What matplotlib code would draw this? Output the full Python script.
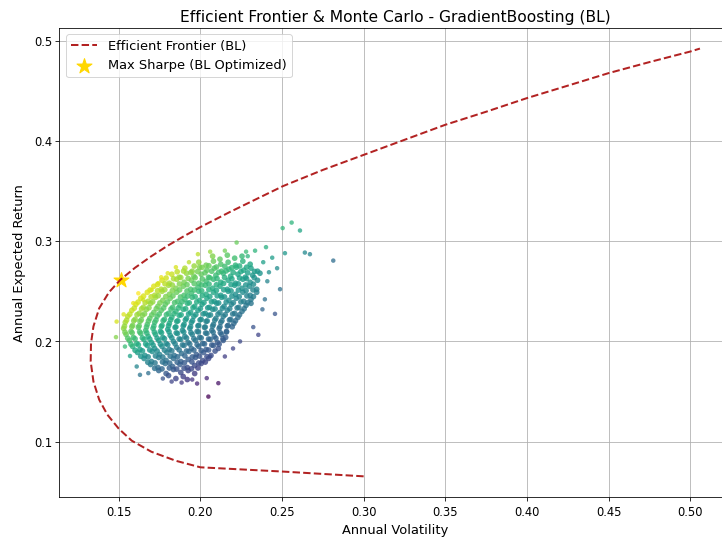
import matplotlib
matplotlib.use("Agg")
import matplotlib.pyplot as plt
import numpy as np

# Efficient frontier (volatility, expected return), from the low-return end upward
frontier_vol = [0.300, 0.250, 0.200, 0.185, 0.170, 0.158, 0.150, 0.143, 0.138, 0.1345,
                0.1328, 0.1330, 0.1345, 0.1380, 0.1440, 0.1510, 0.160, 0.170, 0.180, 0.190,
                0.200, 0.218, 0.235, 0.2508, 0.275, 0.300, 0.325, 0.350, 0.375, 0.400,
                0.425, 0.450, 0.475, 0.500, 0.506]
frontier_ret = [0.0655, 0.0703, 0.0745, 0.081, 0.090, 0.101, 0.113, 0.127, 0.142, 0.160,
                0.180, 0.198, 0.215, 0.233, 0.249, 0.2615, 0.2735, 0.2850, 0.2955, 0.3050,
                0.3140, 0.3290, 0.3425, 0.355, 0.371, 0.386, 0.401, 0.416, 0.429, 0.4426,
                0.455, 0.4675, 0.4785, 0.489, 0.492]

# Max Sharpe portfolio (BL optimized)
best_vol = 0.1512
best_ret = 0.2613

# Monte Carlo portfolios (volatility, return): main body of the cloud
mc_cloud = [
    (0.2075, 0.285), (0.2120, 0.282), (0.2165, 0.286), (0.2210, 0.283), (0.2255, 0.285),
    (0.1990, 0.279), (0.2035, 0.276), (0.2080, 0.280), (0.2125, 0.277), (0.2170, 0.279),
    (0.2215, 0.276), (0.2260, 0.280), (0.2305, 0.277),
    (0.1905, 0.273), (0.1950, 0.270), (0.1995, 0.274), (0.2040, 0.271), (0.2085, 0.273),
    (0.2130, 0.270), (0.2175, 0.272), (0.2220, 0.274), (0.2265, 0.271), (0.2310, 0.273),
    (0.2350, 0.270),
    (0.1825, 0.267), (0.1870, 0.264), (0.1915, 0.268), (0.1960, 0.265), (0.2005, 0.267),
    (0.2050, 0.264), (0.2095, 0.266), (0.2140, 0.268), (0.2185, 0.265), (0.2230, 0.267),
    (0.2275, 0.264), (0.2320, 0.266), (0.2365, 0.268),
    (0.1765, 0.261), (0.1810, 0.258), (0.1855, 0.262), (0.1900, 0.259), (0.1945, 0.261),
    (0.1990, 0.258), (0.2035, 0.260), (0.2080, 0.262), (0.2125, 0.259), (0.2170, 0.261),
    (0.2215, 0.258), (0.2260, 0.262), (0.2305, 0.259), (0.2350, 0.261),
    (0.1715, 0.255), (0.1760, 0.252), (0.1805, 0.256), (0.1850, 0.253), (0.1895, 0.255),
    (0.1940, 0.252), (0.1985, 0.254), (0.2030, 0.256), (0.2075, 0.253), (0.2120, 0.255),
    (0.2165, 0.252), (0.2210, 0.256), (0.2255, 0.253), (0.2300, 0.255), (0.2345, 0.252),
    (0.1675, 0.249), (0.1720, 0.246), (0.1765, 0.250), (0.1810, 0.247), (0.1855, 0.249),
    (0.1900, 0.246), (0.1945, 0.248), (0.1990, 0.250), (0.2035, 0.247), (0.2080, 0.249),
    (0.2125, 0.246), (0.2170, 0.250), (0.2215, 0.247), (0.2260, 0.249), (0.2305, 0.246),
    (0.2345, 0.249),
    (0.1635, 0.243), (0.1680, 0.240), (0.1725, 0.244), (0.1770, 0.241), (0.1815, 0.243),
    (0.1860, 0.240), (0.1905, 0.242), (0.1950, 0.244), (0.1995, 0.241), (0.2040, 0.243),
    (0.2085, 0.240), (0.2130, 0.244), (0.2175, 0.241), (0.2220, 0.243), (0.2265, 0.240),
    (0.2310, 0.242),
    (0.1605, 0.237), (0.1650, 0.234), (0.1695, 0.238), (0.1740, 0.235), (0.1785, 0.237),
    (0.1830, 0.234), (0.1875, 0.236), (0.1920, 0.238), (0.1965, 0.235), (0.2010, 0.237),
    (0.2055, 0.234), (0.2100, 0.238), (0.2145, 0.235), (0.2190, 0.237), (0.2235, 0.234),
    (0.2280, 0.236), (0.2310, 0.238),
    (0.1580, 0.231), (0.1625, 0.228), (0.1670, 0.232), (0.1715, 0.229), (0.1760, 0.231),
    (0.1805, 0.228), (0.1850, 0.230), (0.1895, 0.232), (0.1940, 0.229), (0.1985, 0.231),
    (0.2030, 0.228), (0.2075, 0.232), (0.2120, 0.229), (0.2165, 0.231), (0.2210, 0.228),
    (0.2255, 0.230),
    (0.1555, 0.225), (0.1600, 0.222), (0.1645, 0.226), (0.1690, 0.223), (0.1735, 0.225),
    (0.1780, 0.222), (0.1825, 0.224), (0.1870, 0.226), (0.1915, 0.223), (0.1960, 0.225),
    (0.2005, 0.222), (0.2050, 0.226), (0.2095, 0.223), (0.2140, 0.225), (0.2185, 0.222),
    (0.2230, 0.224),
    (0.1540, 0.219), (0.1585, 0.216), (0.1630, 0.220), (0.1675, 0.217), (0.1720, 0.219),
    (0.1765, 0.216), (0.1810, 0.218), (0.1855, 0.220), (0.1900, 0.217), (0.1945, 0.219),
    (0.1990, 0.216), (0.2035, 0.220), (0.2080, 0.217), (0.2125, 0.219), (0.2170, 0.216),
    (0.2205, 0.218),
    (0.1530, 0.213), (0.1575, 0.210), (0.1620, 0.214), (0.1665, 0.211), (0.1710, 0.213),
    (0.1755, 0.210), (0.1800, 0.212), (0.1845, 0.214), (0.1890, 0.211), (0.1935, 0.213),
    (0.1980, 0.210), (0.2025, 0.214), (0.2070, 0.211), (0.2115, 0.213), (0.2160, 0.210),
    (0.1545, 0.207), (0.1590, 0.204), (0.1635, 0.208), (0.1680, 0.205), (0.1725, 0.207),
    (0.1770, 0.204), (0.1815, 0.206), (0.1860, 0.208), (0.1905, 0.205), (0.1950, 0.207),
    (0.1995, 0.204), (0.2040, 0.208), (0.2085, 0.205), (0.2130, 0.207), (0.2155, 0.204),
    (0.1565, 0.201), (0.1610, 0.198), (0.1655, 0.202), (0.1700, 0.199), (0.1745, 0.201),
    (0.1790, 0.198), (0.1835, 0.200), (0.1880, 0.202), (0.1925, 0.199), (0.1970, 0.201),
    (0.2015, 0.198), (0.2060, 0.202), (0.2105, 0.199), (0.2140, 0.201),
    (0.1585, 0.195), (0.1630, 0.192), (0.1675, 0.196), (0.1720, 0.193), (0.1765, 0.195),
    (0.1810, 0.192), (0.1855, 0.194), (0.1900, 0.196), (0.1945, 0.193), (0.1990, 0.195),
    (0.2035, 0.192), (0.2080, 0.196), (0.2110, 0.193),
    (0.1615, 0.189), (0.1660, 0.186), (0.1705, 0.190), (0.1750, 0.187), (0.1795, 0.189),
    (0.1840, 0.186), (0.1885, 0.188), (0.1930, 0.190), (0.1975, 0.187), (0.2020, 0.189),
    (0.2065, 0.186),
    (0.1655, 0.183), (0.1700, 0.180), (0.1745, 0.184), (0.1790, 0.181), (0.1835, 0.183),
    (0.1880, 0.180), (0.1925, 0.182), (0.1970, 0.184), (0.2015, 0.181), (0.2050, 0.183),
    (0.1695, 0.177), (0.1740, 0.174), (0.1785, 0.178), (0.1830, 0.175), (0.1875, 0.177),
    (0.1920, 0.174), (0.1965, 0.176), (0.2005, 0.178),
    (0.1745, 0.171), (0.1790, 0.168), (0.1835, 0.172), (0.1880, 0.169), (0.1925, 0.171),
    (0.1965, 0.168),
    (0.1805, 0.166), (0.1850, 0.163), (0.1895, 0.165), (0.1920, 0.162),
]

# denser middle of the cloud
mc_core = [
    (0.1962, 0.2752), (0.2010, 0.2738), (0.2052, 0.2755), (0.2098, 0.2742), (0.2150, 0.2748),
    (0.2192, 0.2735), (0.2240, 0.2752), (0.2283, 0.2740),
    (0.1858, 0.2695), (0.1897, 0.2702), (0.1942, 0.2688), (0.1983, 0.2697), (0.2028, 0.2685),
    (0.2069, 0.2700), (0.2112, 0.2690), (0.2158, 0.2703), (0.2201, 0.2688), (0.2248, 0.2696),
    (0.2290, 0.2684), (0.2332, 0.2698),
    (0.1790, 0.2632), (0.1836, 0.2625), (0.1880, 0.2637), (0.1925, 0.2628), (0.1968, 0.2635),
    (0.2012, 0.2622), (0.2058, 0.2634), (0.2102, 0.2627), (0.2148, 0.2638), (0.2193, 0.2624),
    (0.2240, 0.2632), (0.2283, 0.2627), (0.2330, 0.2636),
    (0.1738, 0.2568), (0.1783, 0.2575), (0.1828, 0.2562), (0.1872, 0.2573), (0.1918, 0.2566),
    (0.1962, 0.2577), (0.2008, 0.2563), (0.2053, 0.2572), (0.2098, 0.2565), (0.2142, 0.2578),
    (0.2188, 0.2566), (0.2233, 0.2574), (0.2278, 0.2563), (0.2325, 0.2571),
    (0.1692, 0.2512), (0.1738, 0.2505), (0.1782, 0.2516), (0.1828, 0.2507), (0.1873, 0.2514),
    (0.1918, 0.2503), (0.1963, 0.2513), (0.2008, 0.2505), (0.2052, 0.2517), (0.2098, 0.2508),
    (0.2143, 0.2515), (0.2188, 0.2504), (0.2233, 0.2512), (0.2280, 0.2506), (0.2322, 0.2514),
    (0.1652, 0.2452), (0.1698, 0.2445), (0.1742, 0.2456), (0.1788, 0.2447), (0.1832, 0.2454),
    (0.1878, 0.2443), (0.1922, 0.2453), (0.1968, 0.2446), (0.2012, 0.2457), (0.2058, 0.2448),
    (0.2103, 0.2455), (0.2148, 0.2444), (0.2193, 0.2452), (0.2238, 0.2446), (0.2285, 0.2454),
    (0.2325, 0.2447),
    (0.1618, 0.2392), (0.1662, 0.2386), (0.1708, 0.2395), (0.1752, 0.2384), (0.1798, 0.2393),
    (0.1842, 0.2387), (0.1888, 0.2396), (0.1932, 0.2385), (0.1978, 0.2394), (0.2022, 0.2388),
    (0.2068, 0.2395), (0.2112, 0.2384), (0.2158, 0.2392), (0.2202, 0.2386), (0.2248, 0.2394),
    (0.2290, 0.2387),
    (0.1595, 0.2332), (0.1640, 0.2325), (0.1685, 0.2336), (0.1730, 0.2327), (0.1775, 0.2334),
    (0.1820, 0.2323), (0.1865, 0.2333), (0.1910, 0.2326), (0.1955, 0.2337), (0.2000, 0.2328),
    (0.2045, 0.2335), (0.2090, 0.2324), (0.2135, 0.2332), (0.2180, 0.2327), (0.2225, 0.2334),
    (0.2268, 0.2326),
    (0.1568, 0.2272), (0.1612, 0.2266), (0.1658, 0.2275), (0.1702, 0.2264), (0.1748, 0.2273),
    (0.1792, 0.2267), (0.1838, 0.2276), (0.1882, 0.2265), (0.1928, 0.2274), (0.1972, 0.2268),
    (0.2018, 0.2275), (0.2062, 0.2264), (0.2108, 0.2272), (0.2152, 0.2267), (0.2198, 0.2274),
    (0.2240, 0.2266),
    (0.1548, 0.2212), (0.1592, 0.2206), (0.1638, 0.2215), (0.1682, 0.2204), (0.1728, 0.2213),
    (0.1772, 0.2207), (0.1818, 0.2216), (0.1862, 0.2205), (0.1908, 0.2214), (0.1952, 0.2208),
    (0.1998, 0.2215), (0.2042, 0.2204), (0.2088, 0.2212), (0.2132, 0.2207), (0.2178, 0.2214),
    (0.2215, 0.2206),
    (0.1535, 0.2152), (0.1580, 0.2146), (0.1625, 0.2155), (0.1670, 0.2144), (0.1715, 0.2153),
    (0.1760, 0.2147), (0.1805, 0.2156), (0.1850, 0.2145), (0.1895, 0.2154), (0.1940, 0.2148),
    (0.1985, 0.2155), (0.2030, 0.2144), (0.2075, 0.2152), (0.2120, 0.2147), (0.2165, 0.2154),
    (0.2195, 0.2146),
    (0.1538, 0.2092), (0.1582, 0.2086), (0.1628, 0.2095), (0.1672, 0.2084), (0.1718, 0.2093),
    (0.1762, 0.2087), (0.1808, 0.2096), (0.1852, 0.2085), (0.1898, 0.2094), (0.1942, 0.2088),
    (0.1988, 0.2095), (0.2032, 0.2084), (0.2078, 0.2092), (0.2122, 0.2087), (0.2160, 0.2094),
    (0.1555, 0.2032), (0.1600, 0.2026), (0.1645, 0.2035), (0.1690, 0.2024), (0.1735, 0.2033),
    (0.1780, 0.2027), (0.1825, 0.2036), (0.1870, 0.2025), (0.1915, 0.2034), (0.1960, 0.2028),
    (0.2005, 0.2035), (0.2050, 0.2024), (0.2095, 0.2032), (0.2138, 0.2027),
    (0.1575, 0.1972), (0.1620, 0.1966), (0.1665, 0.1975), (0.1710, 0.1964), (0.1755, 0.1973),
    (0.1800, 0.1967), (0.1845, 0.1976), (0.1890, 0.1965), (0.1935, 0.1974), (0.1980, 0.1968),
    (0.2025, 0.1975), (0.2070, 0.1964), (0.2115, 0.1972),
    (0.1600, 0.1912), (0.1645, 0.1906), (0.1690, 0.1915), (0.1735, 0.1904), (0.1780, 0.1913),
    (0.1825, 0.1907), (0.1870, 0.1916), (0.1915, 0.1905), (0.1960, 0.1914), (0.2005, 0.1908),
    (0.2050, 0.1915), (0.2090, 0.1904),
    (0.1635, 0.1852), (0.1680, 0.1846), (0.1725, 0.1855), (0.1770, 0.1844), (0.1815, 0.1853),
    (0.1860, 0.1847), (0.1905, 0.1856), (0.1950, 0.1845), (0.1995, 0.1854), (0.2040, 0.1848),
    (0.1678, 0.1792), (0.1722, 0.1786), (0.1768, 0.1795), (0.1812, 0.1784), (0.1858, 0.1793),
    (0.1902, 0.1787), (0.1948, 0.1796), (0.1990, 0.1785), (0.2030, 0.1794),
    (0.1720, 0.1732), (0.1765, 0.1726), (0.1810, 0.1735), (0.1855, 0.1724), (0.1900, 0.1733),
    (0.1945, 0.1727), (0.1985, 0.1735),
]

# scattered portfolios around the cloud
mc_outer = [
    (0.2222, 0.2986), (0.2559, 0.3185), (0.2610, 0.3106), (0.2504, 0.3130), (0.2402, 0.2940),
    (0.2518, 0.2880), (0.2640, 0.2886), (0.2671, 0.2870), (0.2814, 0.2806), (0.2335, 0.2905),
    (0.2280, 0.2895), (0.2440, 0.2835), (0.2385, 0.2790), (0.2290, 0.2850), (0.2150, 0.2905),
    (0.2060, 0.2895), (0.1985, 0.2870), (0.2470, 0.2730), (0.2420, 0.2690), (0.2488, 0.2521),
    (0.2457, 0.2275), (0.2324, 0.2143), (0.2355, 0.2066), (0.2243, 0.2000), (0.2200, 0.1930),
    (0.2150, 0.1850), (0.2410, 0.2600), (0.2395, 0.2420), (0.2380, 0.2320),
    (0.1487, 0.2198), (0.1483, 0.2043), (0.1589, 0.2382), (0.1650, 0.2415), (0.1742, 0.2581),
    (0.1702, 0.2514), (0.1800, 0.2680), (0.1850, 0.2740), (0.1930, 0.2790), (0.1620, 0.2480),
    (0.1530, 0.2270), (0.1760, 0.2640),
    (0.1630, 0.1667), (0.1681, 0.1684), (0.1610, 0.1750), (0.1569, 0.1855), (0.1538, 0.1949),
    (0.1824, 0.1600), (0.1885, 0.1590), (0.2059, 0.1850), (0.2039, 0.1634), (0.2110, 0.1584),
    (0.2049, 0.1450), (0.1950, 0.1620), (0.1770, 0.1630), (0.1980, 0.1580),
]

inner = np.array(mc_cloud + mc_core)
outer = np.array(mc_outer)
inner_sharpe = inner[:, 1] / inner[:, 0]
outer_sharpe = outer[:, 1] / outer[:, 0]
vmin = min(inner_sharpe.min(), outer_sharpe.min())
vmax = max(inner_sharpe.max(), outer_sharpe.max())

fig = plt.figure(figsize=(10, 7.51), dpi=72.2)
ax = fig.add_axes([0.0824, 0.0830, 0.930, 0.8653])

ax.scatter(inner[:, 0], inner[:, 1], c=inner_sharpe, cmap='viridis', vmin=vmin, vmax=vmax,
           s=32, alpha=0.8, edgecolors='none', zorder=2)
ax.scatter(outer[:, 0], outer[:, 1], c=outer_sharpe, cmap='viridis', vmin=vmin, vmax=vmax,
           s=20, alpha=0.75, edgecolors='none', zorder=2)
ax.scatter(best_vol, best_ret, marker='*', color='gold', s=250, zorder=3,
           label='Max Sharpe (BL Optimized)')
ax.plot(frontier_vol, frontier_ret, '--', color='firebrick', linewidth=2,
        label='Efficient Frontier (BL)', zorder=4)

ax.set_xlim(0.1137, 0.525)
ax.set_ylim(0.0449, 0.5127)
ax.set_xticks([0.15, 0.20, 0.25, 0.30, 0.35, 0.40, 0.45, 0.50])
ax.set_yticks([0.1, 0.2, 0.3, 0.4, 0.5])
ax.tick_params(labelsize=11.5)
ax.tick_params(axis='x', pad=5)

ax.set_title('Efficient Frontier & Monte Carlo - GradientBoosting (BL)', fontsize=15.5)
ax.set_xlabel('Annual Volatility', fontsize=13, labelpad=5)
ax.set_ylabel('Annual Expected Return', fontsize=13, labelpad=8)
ax.grid(True)

handles, labels = ax.get_legend_handles_labels()
order = [labels.index('Efficient Frontier (BL)'), labels.index('Max Sharpe (BL Optimized)')]
ax.legend([handles[i] for i in order], [labels[i] for i in order], loc='upper left',
          fontsize=13)

fig.savefig('out.png')
